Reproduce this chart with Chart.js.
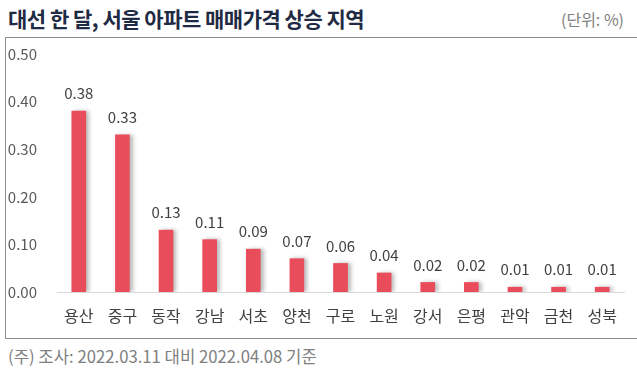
<!DOCTYPE html>
<html>
<head>
<meta charset="utf-8">
<script src="https://cdn.jsdelivr.net/npm/chart.js@4"></script>
<style>
    body { margin: 0; background: #fff; width: 637px; height: 371px; position: relative; overflow: hidden; font-family: "Noto Sans CJK KR", sans-serif; }
    .title { position: absolute; left: 8px; top: 3px; font-size: 21px; font-weight: bold; color: #1f2a44; letter-spacing: -0.5px; white-space: nowrap; }
    .unit { position: absolute; left: 561px; top: 7px; font-size: 16px; color: #808080; white-space: nowrap; }
    .box { position: absolute; left: 5px; top: 37px; width: 640px; height: 300px; border: 1px solid #8c8c8c; }
    .box canvas { position: absolute; left: 0; top: 0; }
    .note { position: absolute; left: 8px; top: 344px; font-size: 16.7px; color: #808080; white-space: nowrap; }
</style>
</head>
<body>
<div class="title">대선 한 달, 서울 아파트 매매가격 상승 지역</div>
<div class="unit">(단위: %)</div>
<div class="box"><canvas id="chart" width="627" height="300"></canvas></div>
<div class="note">(주) 조사: 2022.03.11 대비 2022.04.08 기준</div>
<script>
const districts = ["용산", "중구", "동작", "강남", "서초", "양천", "구로", "노원", "강서", "은평", "관악", "금천", "성북"];
const changeRates = [0.38, 0.33, 0.13, 0.11, 0.09, 0.07, 0.06, 0.04, 0.02, 0.02, 0.01, 0.01, 0.01];

// bar shadow to the right, like the original
const barShadow = {
    id: "barShadow",
    beforeDatasetsDraw(chart) {
        const ctx = chart.ctx;
        ctx.save();
        ctx.shadowColor = "rgba(0,0,0,0.28)";
        ctx.shadowBlur = 4;
        ctx.shadowOffsetX = 3;
        ctx.shadowOffsetY = 0;
    },
    afterDatasetsDraw(chart) {
        chart.ctx.restore();
    }
};

// value labels above each bar
const valueLabels = {
    id: "valueLabels",
    afterDatasetsDraw(chart) {
        const ctx = chart.ctx;
        const meta = chart.getDatasetMeta(0);
        ctx.save();
        ctx.font = "15px 'Noto Sans CJK KR'";
        ctx.fillStyle = "#404040";
        ctx.textAlign = "center";
        ctx.textBaseline = "bottom";
        meta.data.forEach((bar, i) => {
            ctx.fillText(changeRates[i].toFixed(2), bar.x, bar.y - 10);
        });
        ctx.restore();
    }
};

new Chart(document.getElementById("chart"), {
    type: "bar",
    data: {
        labels: districts,
        datasets: [{
            data: changeRates,
            backgroundColor: "#e94c5b",
            barThickness: 14
        }]
    },
    options: {
        responsive: false,
        animation: false,
        layout: { padding: { top: 16, right: 9, left: 0, bottom: 0 } },
        plugins: { legend: { display: false }, tooltip: { enabled: false } },
        scales: {
            x: {
                grid: { display: false },
                border: { display: true, color: "#d9d9d9" },
                ticks: { color: "#404040", font: { size: 16, family: "Noto Sans CJK KR" }, padding: 6 },
                afterFit: s => { s.height = 46; }
            },
            y: {
                min: 0,
                max: 0.5,
                grid: { display: false },
                border: { display: false },
                ticks: {
                    stepSize: 0.1,
                    color: "#595959",
                    padding: 12,
                    font: { size: 15, family: "Noto Sans CJK KR" },
                    callback: v => v.toFixed(2)
                },
                afterFit: s => { s.width = 51; s.paddingTop = 0; s.paddingBottom = 0; }
            }
        }
    },
    plugins: [barShadow, valueLabels]
});
</script>
</body>
</html>
